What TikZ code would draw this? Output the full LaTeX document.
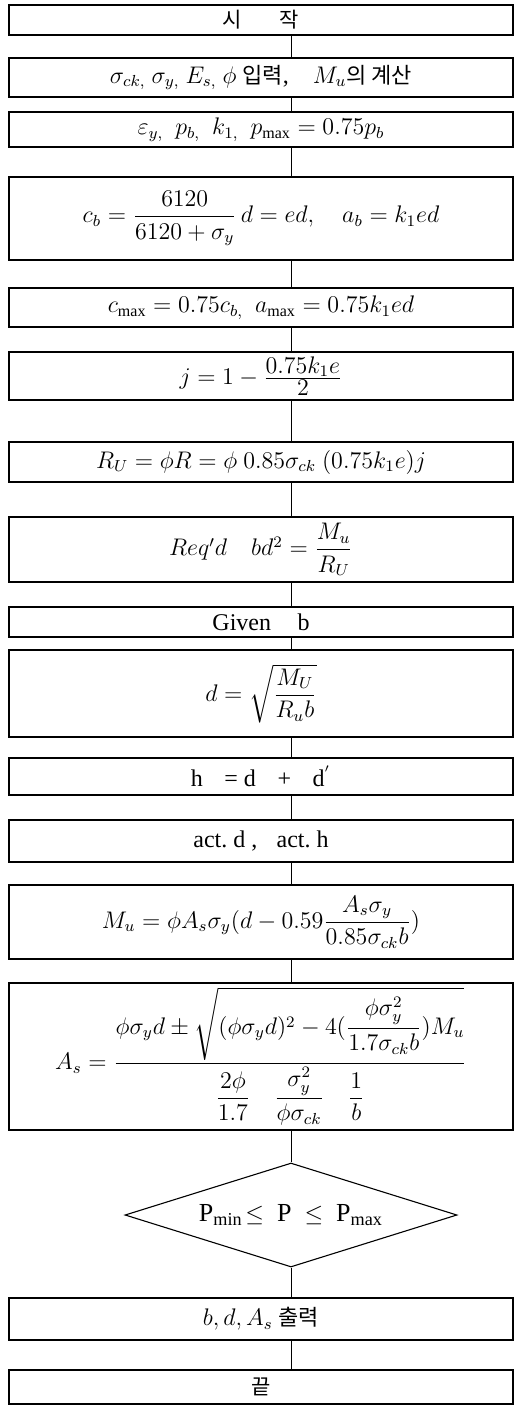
\documentclass[tikz,border=0pt]{standalone}
\usepackage{amsmath}
\usepackage{fontspec}
\setmainfont{Liberation Serif}
\newfontfamily\kr{Noto Sans CJK KR}
\usetikzlibrary{shapes.geometric}

\begin{document}
\begin{tikzpicture}[
        x=0.5pt,y=-0.5pt,
        box/.style={draw,line width=0.65pt,minimum width=252pt,inner sep=0pt,align=center,font=\fontsize{12}{14}\selectfont},
        cond/.style={draw,diamond,aspect=3.2,line width=0.55pt,minimum width=166pt,minimum height=52pt,inner sep=0pt,font=\fontsize{13}{15}\selectfont},
        link/.style={line width=0.5pt}
      ]
        \useasboundingbox (0,0) rectangle (520,1406);
        \coordinate (spine) at (291,0);
        \node[box,minimum height=15pt] (start) at (261,20) {\kr\fontsize{10.5}{12}\selectfont 시\hspace{1.8em}작};
        \node[box,minimum height=19.5pt] (input) at (261,77.5) {$\sigma_{ck,}\ \sigma_{y,}\ E_{s,}\ \phi$ {\kr\fontsize{11}{13}\selectfont 입력},\quad $M_u${\kr\fontsize{11}{13}\selectfont 의 계산}};
        \node[box,minimum height=17.5pt] (ratio) at (261,129.5) {$\varepsilon_{y,}\ \ p_{b,}\ \ k_{1,}\ \ p_{\max}=0.75p_b$};
        \node[box,minimum height=41.5pt] (balance) at (261,218.5) {$c_b=\dfrac{6120}{6120+\sigma_y}\,d=ed,\quad a_b=k_1ed$};
        \node[box,minimum height=19.5pt] (limit) at (261,307.5) {$c_{\max}=0.75c_{b,}\ \ a_{\max}=0.75k_1ed$};
        \node[box,minimum height=24pt] (arm) at (261,376) {$j=1-\frac{\displaystyle 0.75k_1e}{\displaystyle 2}$};
        \node[box,minimum height=20pt] (resist) at (261,462) {$R_U=\phi R=\phi\ 0.85\sigma_{ck}\ (0.75k_1e)j$};
        \node[box,minimum height=32.5pt] (reqd) at (261,549.5) {$Req'd\quad bd^2=\dfrac{M_u}{R_U}$};
        \node[box,minimum height=15pt] (width) at (261,622) {Given\hspace{1.1em}b};
        \node[box,minimum height=43.5pt] (depth) at (261,693.5) {$d=\sqrt{\dfrac{M_U}{R_ub}}$};
        \node[box,minimum height=18.5pt] (height) at (261,776.5) {h\hspace{0.9em}= d\hspace{0.9em}+\hspace{0.9em}d$^{'}$};
        \node[box,minimum height=21pt] (actual) at (261,841) {act.\ d\ ,\hspace{0.8em}act.\ h};
        \node[box,minimum height=37pt] (moment) at (261,922) {$M_u=\phi A_s\sigma_y(d-0.59\dfrac{A_s\sigma_y}{0.85\sigma_{ck}b})$};
        \node[box,minimum height=73.5pt] (steel) at (261,1056.5) {$A_s=\dfrac{\phi\sigma_yd\pm\sqrt{(\phi\sigma_yd)^2-4(\dfrac{\phi\sigma_y^2}{1.7\sigma_{ck}b})M_u}}{\dfrac{2\phi}{1.7}\quad\dfrac{\sigma_y^2}{\phi\sigma_{ck}}\quad\dfrac{1}{b}}$};
        \node[cond] (check) at (291,1215) {P$_{\mathrm{min}}\!\le$\ \ P\ \ $\le$\ \ P$_{\mathrm{max}}$};
        \node[box,minimum height=21pt] (output) at (261,1319) {$b,d,A_s$ {\kr\fontsize{11}{13}\selectfont 출력}};
        \node[box,minimum height=17pt] (stop) at (261,1387) {\kr\fontsize{10.5}{12}\selectfont 끝};
        % connectors on the spine
        \foreach \a/\b in {start/input,input/ratio,ratio/balance,balance/limit,limit/arm,arm/resist,resist/reqd,reqd/width,width/depth,depth/height,height/actual,actual/moment,moment/steel,steel/check,check/output,output/stop}
          \draw[link] (\a.south -| spine) -- (\b.north -| spine);
      \end{tikzpicture}
\end{document}
